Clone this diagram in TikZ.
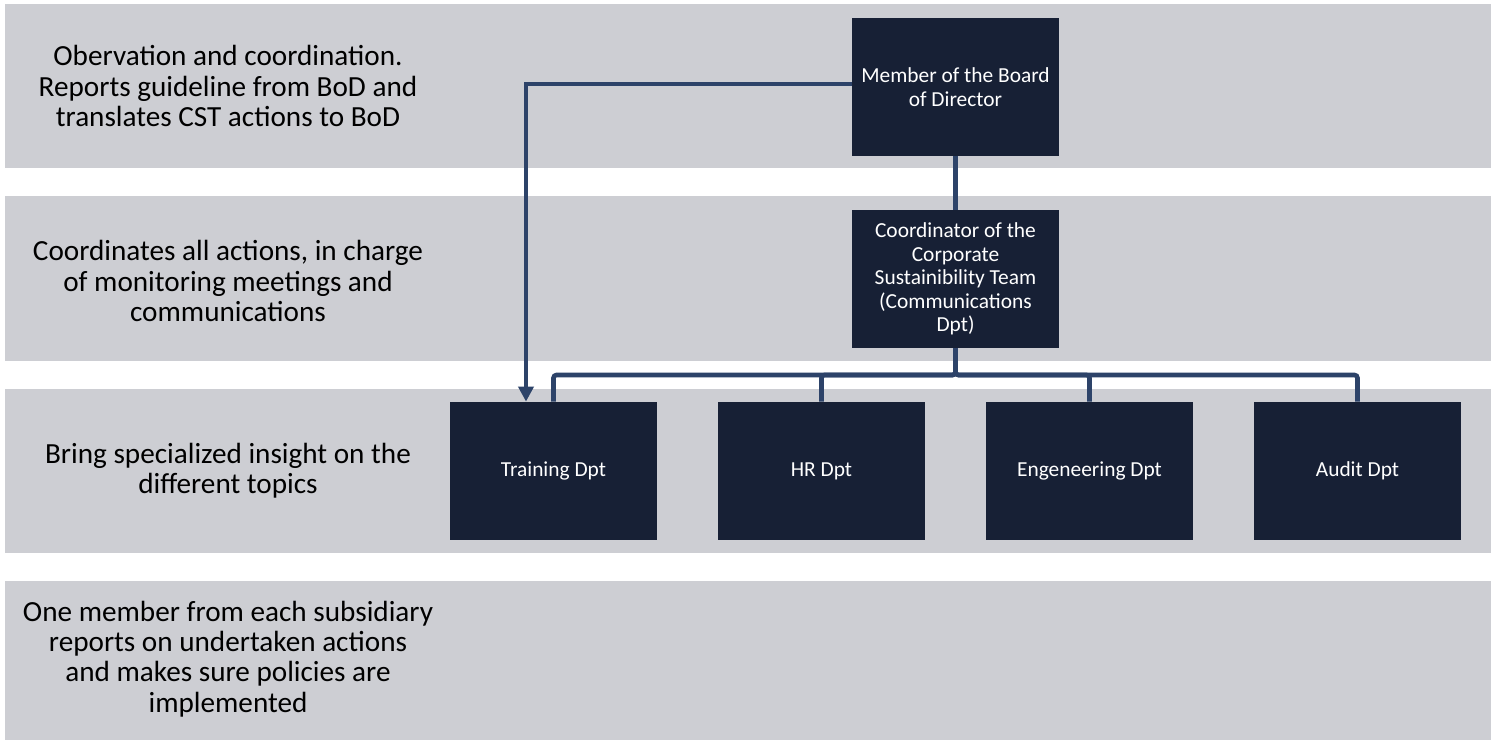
\documentclass[tikz,border=0pt]{standalone}
\usepackage{fontspec}
\setmainfont{Carlito}
\usetikzlibrary{arrows.meta}
\definecolor{bandgray}{RGB}{205,206,211}
\definecolor{boxnavy}{RGB}{23,32,53}
\definecolor{linkblue}{RGB}{45,67,105}
\begin{document}
\begin{tikzpicture}[x=0.5pt,y=-0.5pt,
  band/.style={fill=bandgray,draw=none},
  lefttext/.style={align=center,text=black,font=\fontsize{14.6pt}{15.2pt}\selectfont,inner sep=0pt},
  orgbox/.style={fill=boxnavy,draw=none,text=white,align=center,minimum width=103.5pt,minimum height=69pt,inner sep=2pt,font=\fontsize{10.7pt}{11.8pt}\selectfont},
  conn/.style={draw=linkblue,line width=2.3pt},
  arr/.style={conn,-{Triangle[length=7.5pt,width=7.5pt]}}]
\useasboundingbox[fill=white] (0,0) rectangle (1511,743);
% bands
\fill[band] (5,4) rectangle (1491,168);
\fill[band] (5,196) rectangle (1491,361);
\fill[band] (5,389) rectangle (1491,553);
\fill[band] (5,581) rectangle (1491,740);
% left texts
\node[lefttext] (t1) at (228,86) {Obervation and coordination.\\Reports guideline from BoD and\\translates CST actions to BoD};
\node[lefttext] (t2) at (228,281) {Coordinates all actions, in charge\\of monitoring meetings and\\communications};
\node[lefttext] (t3) at (228,471) {Bring specialized insight on the\\different topics};
\node[lefttext] (t4) at (228,659) {One member from each subsidiary\\reports on undertaken actions\\and makes sure policies are\\implemented};
% boxes
\node[orgbox] (board) at (955.5,87) {Member of the Board\\of Director};
\node[orgbox] (coord) at (955.5,279) {Coordinator of the\\Corporate\\Sustainibility Team\\(Communications\\Dpt)};
\node[orgbox] (train) at (553.5,471) {Training Dpt};
\node[orgbox] (hr) at (821.5,471) {HR Dpt};
\node[orgbox] (eng) at (1089.5,471) {Engeneering Dpt};
\node[orgbox] (audit) at (1357.5,471) {Audit Dpt};
% connectors
\coordinate (bus) at (0,375);
\coordinate (left) at (526,0);
\draw[conn] (board.south) -- (coord.north);
\draw[arr] (board.west |- 0,84) -| (left |- train.north);
\foreach \d in {train,hr,eng,audit}{
  \draw[conn,rounded corners=1.5pt] (coord.south) -- (coord.south |- bus) -| (\d.north);
}
\end{tikzpicture}
\end{document}
